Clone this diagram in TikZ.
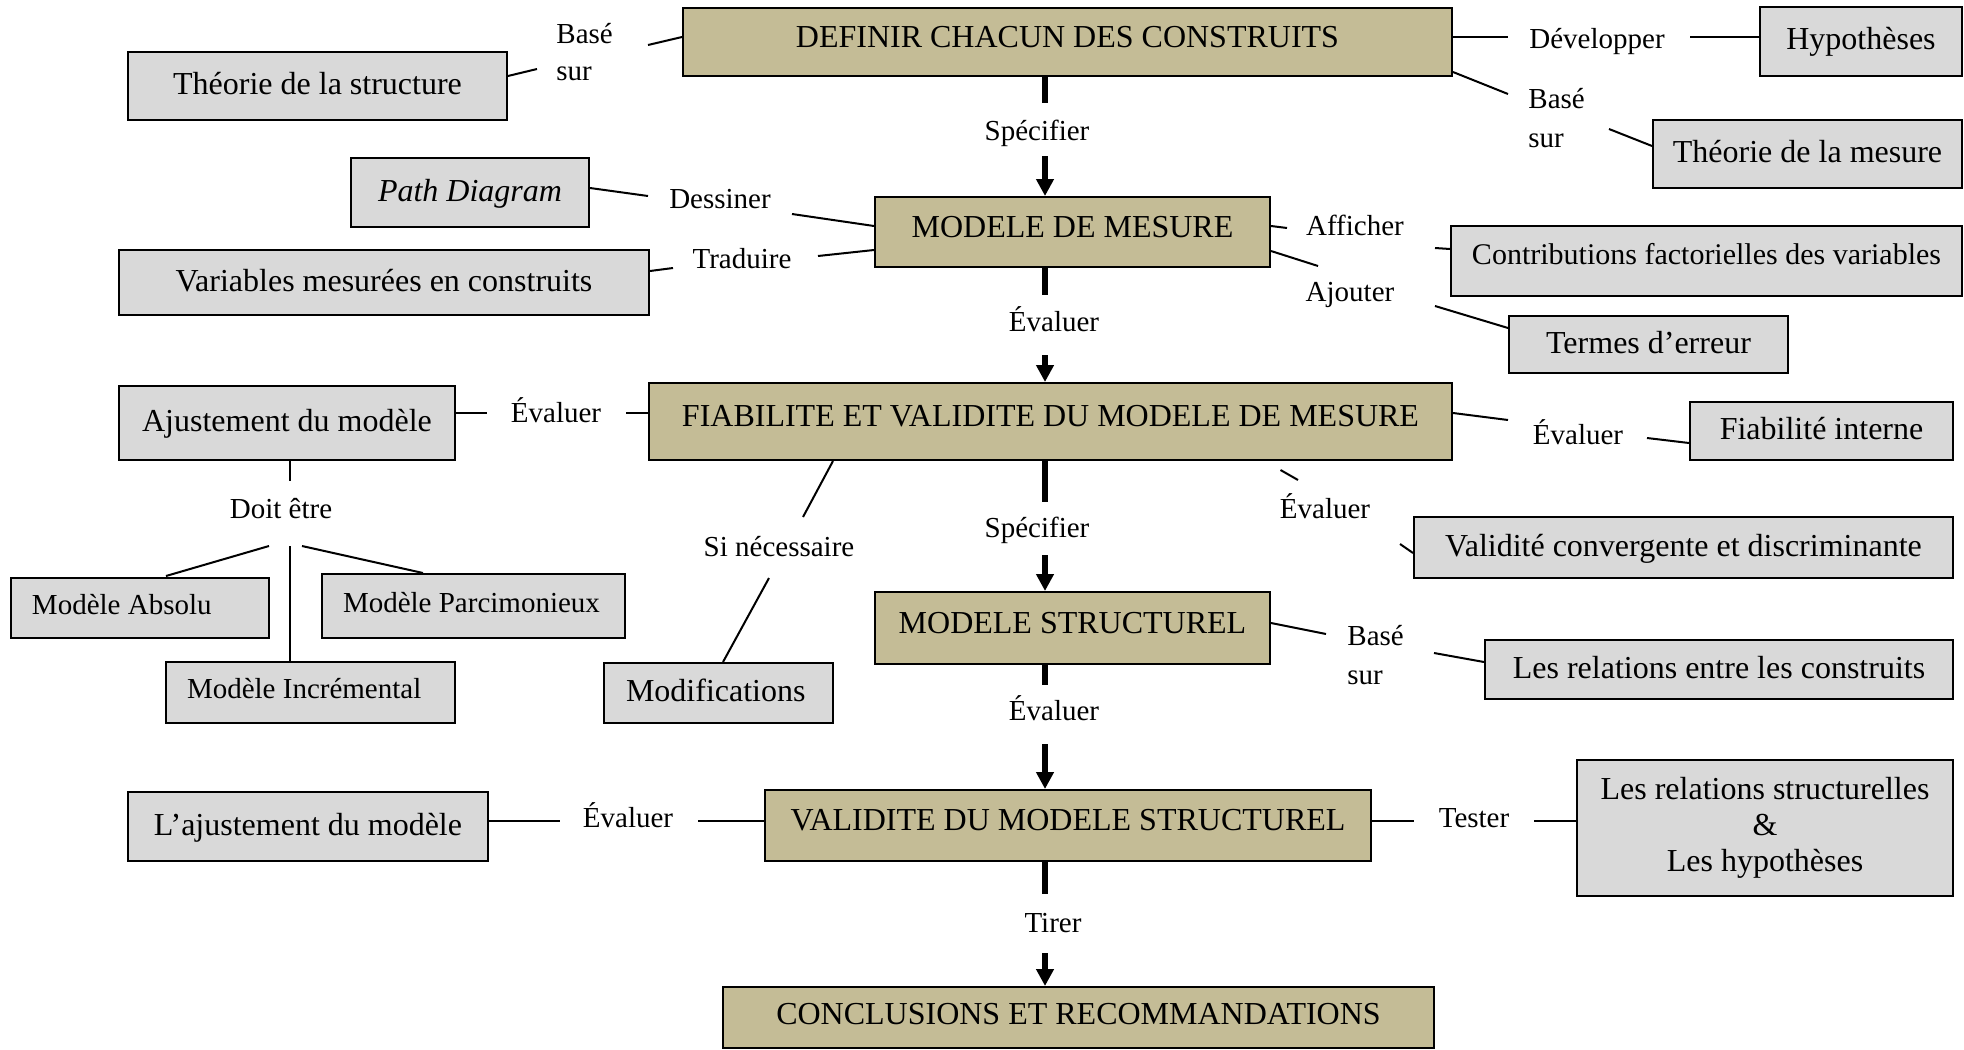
\documentclass[tikz,border=0pt]{standalone}
\usepackage{fontspec}
\setmainfont{Liberation Serif}
\usetikzlibrary{calc,arrows.meta}
\definecolor{tanfill}{RGB}{196,188,150}
\definecolor{greyfill}{RGB}{217,217,217}
\begin{document}
\begin{tikzpicture}[x=0.5pt,y=-0.5pt,
  box/.style={draw, line width=1pt, inner sep=0pt},
  wh/.style 2 args={minimum width=#1*0.5pt, minimum height=#2*0.5pt},
  mainbox/.style={box, fill=tanfill, font=\fontsize{16}{19}\selectfont, text height=0.75em, text depth=0.24em},
  subbox/.style={box, fill=greyfill, font=\fontsize{16}{19}\selectfont, text height=0.85em, text depth=0em},
  smallbox/.style={box, fill=greyfill, font=\fontsize{14.5}{18}\selectfont, inner xsep=10.5pt, text height=0.75em, text depth=0.14em},
  lbl/.style={inner sep=0pt, font=\fontsize{14.5}{18}\selectfont, anchor=base},
  lbltwo/.style={inner sep=0pt, font=\fontsize{14.5}{18.5}\selectfont, anchor=west, align=left},
  conn/.style={line width=1pt},
  spinebar/.style={line width=3pt},
  spinearrow/.style={line width=3pt, -{Triangle[width=8.5pt,length=8.5pt]}},
]
\useasboundingbox (0,0) rectangle (1964,1049);

% main steps
\node[mainbox, wh={769}{68}] (def) at (1067.5,42) {DEFINIR CHACUN DES CONSTRUITS};
\node[mainbox, wh={395}{70}] (mod) at (1072.5,232) {MODELE DE MESURE};
\node[mainbox, wh={803}{77}] (fia) at (1050.5,421.5) {FIABILITE ET VALIDITE DU MODELE DE MESURE};
\node[mainbox, wh={395}{72}] (struct) at (1072.5,628) {MODELE STRUCTUREL};
\node[mainbox, wh={606}{71}] (valid) at (1068,825.5) {VALIDITE DU MODELE STRUCTUREL};
\node[mainbox, wh={711}{61}, text depth=0.1em] (concl) at (1078.5,1017.5) {CONCLUSIONS ET RECOMMANDATIONS};

% side boxes
\node[subbox, wh={379}{68}, text height=0.8em] (theoS) at (317.5,86) {Théorie de la structure};
\node[subbox, wh={202}{69}, text height=0.8em] (hyp) at (1861,41.5) {Hypothèses};
\node[subbox, wh={309}{68}, text height=0.8em] (theoM) at (1807.5,154) {Théorie de la mesure};
\node[subbox, wh={238}{69}] (pd) at (470,192.5) {\textit{Path Diagram}};
\node[subbox, wh={530}{65}] (var) at (384,282.5) {Variables mesurées en construits};
\node[subbox, wh={511}{70}, font=\fontsize{15}{18}\selectfont, text height=0.75em, text depth=0.4em] (contrib) at (1706.5,261) {Contributions factorielles des variables};
\node[subbox, wh={279}{57}] (termes) at (1648.5,344.5) {Termes d’erreur};
\node[subbox, wh={336}{74}] (ajust) at (287,423) {Ajustement du modèle};
\node[smallbox, wh={258}{60}] (absolu) at (140,608) {\makebox[108pt][l]{Modèle Absolu}};
\node[smallbox, wh={303}{64}] (parci) at (473.5,606) {\makebox[130.5pt][l]{Modèle Parcimonieux}};
\node[smallbox, wh={289}{61}] (incr) at (310.5,692.5) {\makebox[123.5pt][l]{Modèle Incrémental}};
\node[smallbox, wh={229}{60}, inner xsep=11pt, font=\fontsize{16}{19}\selectfont,
      text height=0.85em, text depth=0em] (modif) at (718.5,693) {\makebox[92.5pt][l]{Modifications}};
\node[subbox, wh={263}{58}] (fiabi) at (1821.5,431) {Fiabilité interne};
\node[subbox, wh={539}{61}] (valconv) at (1683.5,547.5) {Validité convergente et discriminante};
\node[subbox, wh={468}{59}] (rel) at (1719,669.5) {Les relations entre les construits};
\node[subbox, wh={360}{69}] (lajust) at (308,826.5) {L’ajustement du modèle};
\node[draw, line width=1pt, fill=greyfill, inner sep=0pt, wh={376}{136}, align=center,
      font=\fontsize{16}{18}\selectfont] (relstruct) at (1765,828)
      {Les relations structurelles\\\&\\Les hypothèses};

% link labels
\node[lbltwo] (basel) at (556,52) {Basé\\sur};
\node[lbl] (dev) at (1597,48) {Développer};
\node[lbltwo, font=\fontsize{14.5}{19.5}\selectfont] (baser) at (1528,118) {Basé\\sur};
\node[lbl] (spec1) at (1037,140) {Spécifier};
\node[lbl] (dess) at (720,208) {Dessiner};
\node[lbl] (trad) at (742,268) {Traduire};
\node[lbl] (aff) at (1355,235) {Afficher};
\node[lbl] (ajout) at (1350,301) {Ajouter};
\node[lbl] (eval1) at (1054,331) {Évaluer};
\node[lbl] (evalL) at (556,422) {Évaluer};
\node[lbl] (doit) at (281,518) {Doit être};
\node[lbl] (si) at (779,556) {Si nécessaire};
\node[lbl] (spec2) at (1037,537) {Spécifier};
\node[lbl] (evalR) at (1578,444) {Évaluer};
\node[lbl] (evalLR) at (1325,518) {Évaluer};
\node[lbltwo, font=\fontsize{14.5}{19.5}\selectfont] (bases) at (1347,655) {Basé\\sur};
\node[lbl] (eval2) at (1054,720) {Évaluer};
\node[lbl] (evalV) at (628,827) {Évaluer};
\node[lbl] (tester) at (1474,827) {Tester};
\node[lbl] (tirer) at (1053,932) {Tirer};

% vertical flow
\coordinate (spine) at (1045,0);
\draw[spinebar] (spine |- def.south) -- ($(spine |- spec1.base)+(0,-37)$);
\draw[spinearrow] ($(spine |- spec1.base)+(0,16)$) -- (spine |- mod.north);
\draw[spinebar] (spine |- mod.south) -- ($(spine |- eval1.base)+(0,-36)$);
\draw[spinearrow] ($(spine |- eval1.base)+(0,24)$) -- (spine |- fia.north);
\draw[spinebar] (spine |- fia.south) -- ($(spine |- spec2.base)+(0,-35)$);
\draw[spinearrow] ($(spine |- spec2.base)+(0,18)$) -- (spine |- struct.north);
\draw[spinebar] (spine |- struct.south) -- ($(spine |- eval2.base)+(0,-35)$);
\draw[spinearrow] ($(spine |- eval2.base)+(0,24)$) -- (spine |- valid.north);
\draw[spinebar] (spine |- valid.south) -- ($(spine |- tirer.base)+(0,-38)$);
\draw[spinearrow] ($(spine |- tirer.base)+(0,21)$) -- (spine |- concl.north);

% side links
\draw[conn] ($(theoS.east)+(0,-10)$) -- ($(basel.west)+(-19,17)$);
\draw[conn] ($(basel.west)+(92,-7)$) -- ($(def.west)+(0,-5)$);
\draw[conn] ($(def.east)+(0,-5)$) -- ($(dev.base)+(-89,-11)$);
\draw[conn] ($(dev.base)+(93,-11)$) -- ($(hyp.west)+(0,-4.5)$);
\draw[conn] ($(def.east)+(0,30)$) -- ($(baser.west)+(-20,-24)$);
\draw[conn] ($(baser.west)+(81,11)$) -- ($(theoM.west)+(0,-8)$);

\draw[conn] ($(pd.east)+(0,-4.5)$) -- ($(dess.base)+(-72,-12)$);
\draw[conn] ($(dess.base)+(72,6)$) -- ($(mod.west)+(0,-6)$);
\draw[conn] ($(trad.base)+(76,-12)$) -- ($(mod.west)+(0,18)$);
\draw[conn] ($(var.east)+(0,-11.5)$) -- ($(trad.base)+(-69,0)$);
\draw[conn] ($(mod.east)+(0,-6)$) -- ($(aff.base)+(-68,-7)$);
\draw[conn] ($(aff.base)+(80,13)$) -- ($(contrib.west)+(0,-12)$);
\draw[conn] ($(mod.east)+(0,19)$) -- ($(ajout.base)+(-32,-35)$);
\draw[conn] ($(ajout.base)+(85,5)$) -- ($(termes.west)+(0,-16.5)$);

\draw[conn] ($(ajust.east)+(0,-10)$) -- ($(evalL.base)+(-69,-9)$);
\draw[conn] ($(evalL.base)+(70,-9)$) -- ($(fia.west)+(0,-8.5)$);
\draw[conn] ($(ajust.south)+(3,0)$) -- ($(doit.base)+(9,-37)$);
\draw[conn] ($(doit.base)+(-12,28)$) -- ($(absolu.north)+(26,-1)$);
\draw[conn] ($(doit.base)+(21,28)$) -- ($(parci.north)+(-50.5,0)$);
\draw[conn] ($(doit.base)+(9,28)$) -- ($(incr.north)+(-20.5,0)$);
\draw[conn] ($(fia.south)+(-217.5,0)$) -- ($(si.base)+(24,-39)$);
\draw[conn] ($(si.base)+(-10,22)$) -- ($(modif.north)+(4.5,0)$);

\draw[conn] ($(fia.east)+(0,-8.5)$) -- ($(evalR.base)+(-70,-24)$);
\draw[conn] ($(evalR.base)+(69,-6)$) -- ($(fiabi.west)+(0,12)$);
\draw[conn] ($(fia.south east)+(-172.5,9)$) -- ($(evalLR.base)+(-27,-38)$);
\draw[conn] ($(evalLR.base)+(75,26)$) -- ($(valconv.west)+(0,5.5)$);
\draw[conn] ($(struct.east)+(0,-5)$) -- ($(bases.west)+(-21,-21)$);
\draw[conn] ($(bases.west)+(87,-2)$) -- ($(rel.west)+(0,-7.5)$);

\draw[conn] ($(lajust.east)+(0,-5.5)$) -- ($(evalV.base)+(-68,-6)$);
\draw[conn] ($(evalV.base)+(70,-6)$) -- ($(valid.west)+(0,-4.5)$);
\draw[conn] ($(valid.east)+(0,-4.5)$) -- ($(tester.base)+(-60,-6)$);
\draw[conn] ($(tester.base)+(60,-6)$) -- ($(relstruct.west)+(0,-7)$);
\end{tikzpicture}
\end{document}
